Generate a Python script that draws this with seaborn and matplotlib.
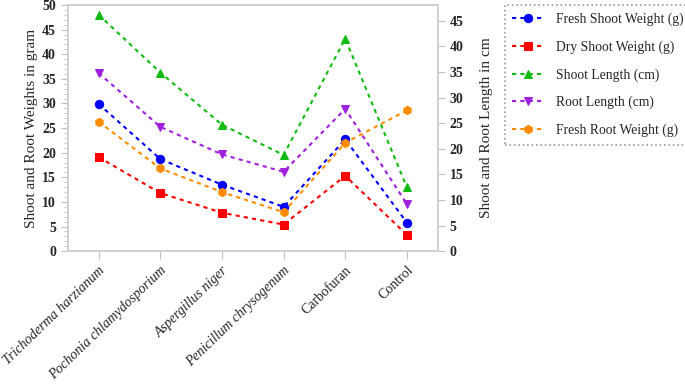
import numpy as np
import pandas as pd
import matplotlib
matplotlib.use('Agg')
import matplotlib.pyplot as plt
import seaborn as sns

# treatments on x axis
treatments = ['Trichoderma harzianum', 'Pochonia chlamydosporium', 'Aspergillus niger',
              'Penicillum chrysogenum', 'Carbofuran', 'Control']
italic_flags = [True, True, True, True, False, False]

# left axis (grams)
fresh_shoot_weight = [29.9, 18.7, 13.5, 9.0, 22.7, 5.8]
dry_shoot_weight = [19.1, 11.8, 7.8, 5.4, 15.3, 3.3]
fresh_root_weight = [26.3, 16.8, 12.0, 7.9, 22.0, 28.6]
# right axis (cm)
shoot_length = [46.2, 34.9, 24.7, 18.8, 41.5, 12.5]
root_length = [34.8, 24.3, 18.9, 15.5, 27.8, 9.2]

sns.set_style('white')
plt.rcParams['font.family'] = ['Liberation Serif', 'DejaVu Serif']

fig = plt.figure(figsize=(6.85, 3.84), dpi=100)
ax = fig.add_axes([0.099, 0.346, 0.54, 0.641])
ax2 = ax.twinx()

x = np.arange(len(treatments))
dash = (2, 2)

left_series = [
    ('Fresh Shoot Weight (g)', fresh_shoot_weight, '#0000ff', 'o'),
    ('Dry Shoot Weight (g)', dry_shoot_weight, '#ff0000', 's'),
    ('Fresh Root Weight (g)', fresh_root_weight, '#ff8c00', 'h'),
]
right_series = [
    ('Shoot Length (cm)', shoot_length, '#11bb11', '^'),
    ('Root Length (cm)', root_length, '#a020e0', 'v'),
]

handles = {}
for name, vals, col, mk in left_series:
    df = pd.DataFrame({'x': x, 'y': vals})
    sns.lineplot(data=df, x='x', y='y', ax=ax, color=col, marker=mk, markersize=6,
                 markeredgecolor=col, linewidth=1.5, dashes=False)
    ln = ax.lines[-1]
    ln.set_dashes(dash)
    handles[name] = ln

for name, vals, col, mk in right_series:
    df = pd.DataFrame({'x': x, 'y': vals})
    sns.lineplot(data=df, x='x', y='y', ax=ax2, color=col, marker=mk, markersize=6,
                 markeredgecolor=col, linewidth=1.5, dashes=False)
    ln = ax2.lines[-1]
    ln.set_dashes(dash)
    handles[name] = ln

ax.set_xlim(-0.5, 5.5)
ax.set_ylim(0, 50)
ax2.set_ylim(0, 48.1)
ax.set_yticks(np.arange(0, 51, 5))
ax.set_yticks(np.arange(0, 51, 1), minor=True)
ax2.set_yticks(np.arange(0, 46, 5))

ax.set_xticks(x)
ax.set_xticklabels(treatments, rotation=44, ha='right', rotation_mode='anchor', fontsize=10)
for lab, it in zip(ax.get_xticklabels(), italic_flags):
    if it:
        lab.set_fontstyle('italic')

ax.set_xlabel('')
ax.set_ylabel('Shoot and Root Weights in gram', fontsize=11, labelpad=3)
ax2.set_xlabel('')
ax2.set_ylabel('Shoot and Root Length in cm', fontsize=11, labelpad=12)

for a in (ax, ax2):
    for s in a.spines.values():
        s.set_color('#d0d0d0')
        s.set_linewidth(1.2)
ax.tick_params(axis='y', which='major', direction='out', length=5, color='#c0c0c0',
               labelsize=10, left=True)
ax.tick_params(axis='y', which='minor', direction='out', length=3, color='#c0c0c0', left=True)
ax.tick_params(axis='x', direction='out', length=6, color='#c0c0c0', bottom=True, pad=3)
ax2.tick_params(axis='y', direction='out', length=5, color='#c0c0c0', labelsize=10, right=True)
for lab in ax.get_yticklabels() + ax2.get_yticklabels():
    lab.set_fontweight('bold')

order = ['Fresh Shoot Weight (g)', 'Dry Shoot Weight (g)', 'Shoot Length (cm)',
         'Root Length (cm)', 'Fresh Root Weight (g)']
leg = fig.legend([handles[n] for n in order], order, loc='upper left',
                 bbox_to_anchor=(0.737, 0.987), fontsize=9.8, frameon=True,
                 fancybox=False, borderpad=0.55, labelspacing=1.05, handlelength=2.3,
                 handletextpad=0.9, borderaxespad=0)
frame = leg.get_frame()
frame.set_edgecolor('#808080')
frame.set_linestyle(':')
frame.set_linewidth(1.2)

fig.savefig('out.png', dpi=100)
